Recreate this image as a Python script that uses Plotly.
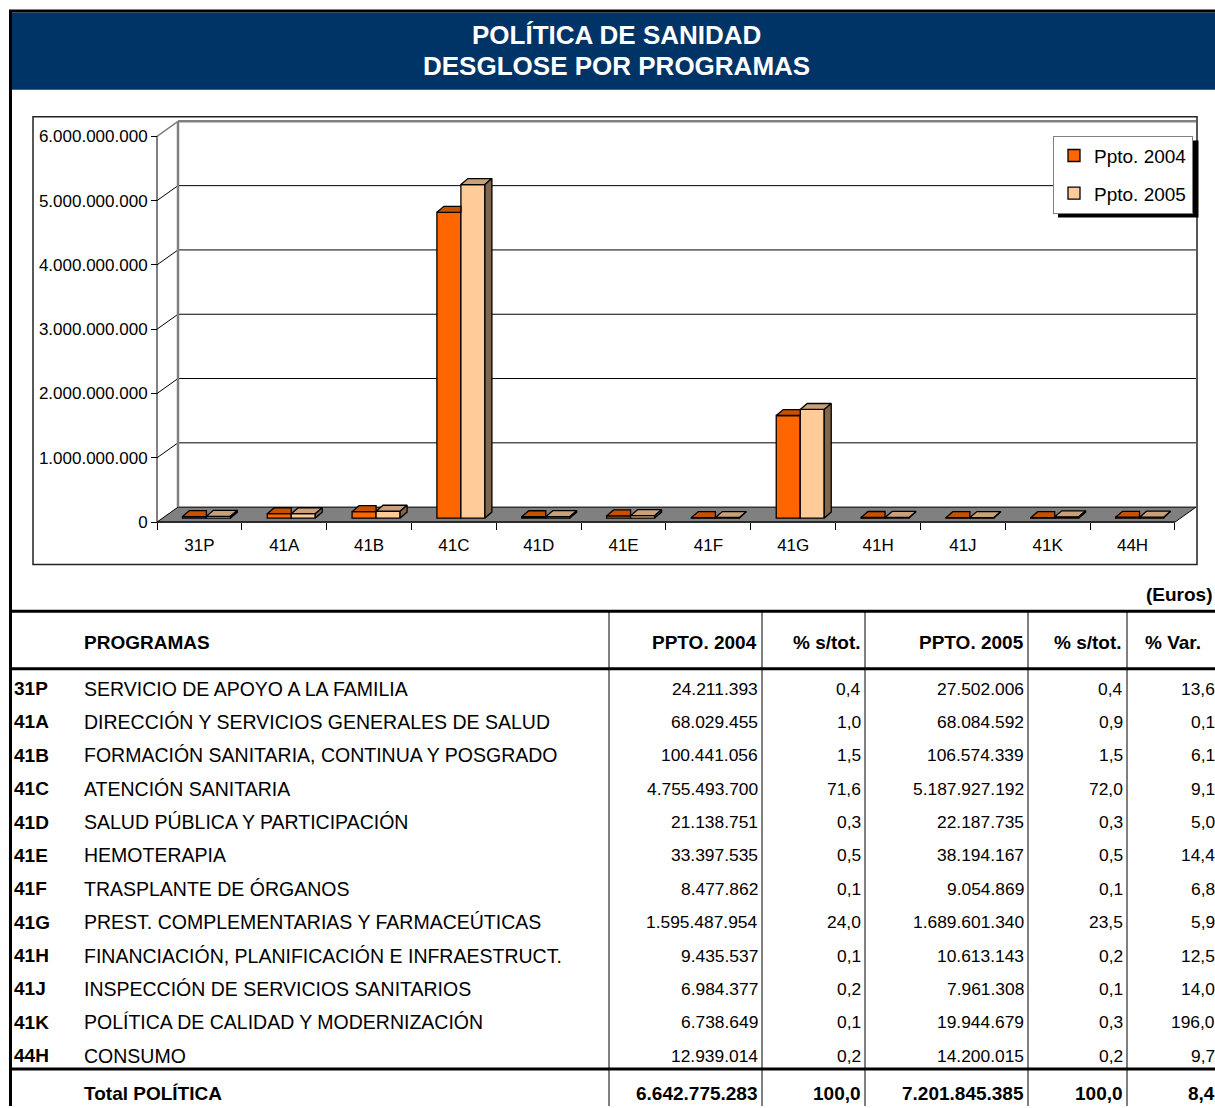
import plotly.graph_objects as go

W, H = 1215, 1108

codes = ["31P", "41A", "41B", "41C", "41D", "41E", "41F", "41G", "41H", "41J", "41K", "44H"]
names = [
    "SERVICIO DE APOYO A LA FAMILIA",
    "DIRECCIÓN Y SERVICIOS GENERALES DE SALUD",
    "FORMACIÓN SANITARIA, CONTINUA Y POSGRADO",
    "ATENCIÓN SANITARIA",
    "SALUD PÚBLICA Y PARTICIPACIÓN",
    "HEMOTERAPIA",
    "TRASPLANTE DE ÓRGANOS",
    "PREST. COMPLEMENTARIAS Y FARMACEÚTICAS",
    "FINANCIACIÓN, PLANIFICACIÓN E INFRAESTRUCT.",
    "INSPECCIÓN DE SERVICIOS SANITARIOS",
    "POLÍTICA DE CALIDAD Y MODERNIZACIÓN",
    "CONSUMO",
]
ppto_2004 = [24211393, 68029455, 100441056, 4755493700, 21138751, 33397535,
             8477862, 1595487954, 9435537, 6984377, 6738649, 12939014]
pct_2004 = [0.4, 1.0, 1.5, 71.6, 0.3, 0.5, 0.1, 24.0, 0.1, 0.2, 0.1, 0.2]
ppto_2005 = [27502006, 68084592, 106574339, 5187927192, 22187735, 38194167,
             9054869, 1689601340, 10613143, 7961308, 19944679, 14200015]
pct_2005 = [0.4, 0.9, 1.5, 72.0, 0.3, 0.5, 0.1, 23.5, 0.2, 0.1, 0.3, 0.2]
pct_var = [13.6, 0.1, 6.1, 9.1, 5.0, 14.4, 6.8, 5.9, 12.5, 14.0, 196.0, 9.7]
total_2004, total_2005 = 6642775283, 7201845385
total_pct, total_var = 100.0, 8.4

y_tickvals = [0, 1e9, 2e9, 3e9, 4e9, 5e9, 6e9]
y_ticktext = ["0", "1.000.000.000", "2.000.000.000", "3.000.000.000",
              "4.000.000.000", "5.000.000.000", "6.000.000.000"]

ORANGE, PEACH = "#FF6600", "#FFCC99"
ORANGE_TOP, PEACH_TOP, PEACH_SIDE = "#C65100", "#C9A07A", "#7F664D"
NAVY = "#003366"
FONT = "Liberation Sans, Arial, sans-serif"


def num(v):
    return f"{v:,}".replace(",", ".")


def pct(v):
    return f"{v:.1f}".replace(".", ",")


# pixel geometry of the pseudo-3D plot
AX_LEFT, AX_ZERO = 157, 523.5      # front axes corner
CAT_PX, E9_PX = 84.83, 64.47        # px per category, px per 1e9
DOM_L, DOM_R, DOM_T, DOM_B = 150, 1200, 118, 530


def px(x):
    return x / W


def py(y):
    return 1 - y / H


def ux(p):
    return p / CAT_PX


def uy(p):
    return p / E9_PX * 1e9


wall_dx, wall_dy = ux(21), uy(15)
bar_dx, bar_dy = ux(7), uy(6)
bar_w, bar_shift, bar_base = ux(24), ux(7), uy(4)
n = len(codes)
x_end = n + wall_dx

fig = go.Figure()

centers = [i + 0.5 + bar_shift for i in range(n)]
x04 = [c - bar_w / 2 for c in centers]
x05 = [c + bar_w / 2 for c in centers]
fig.add_bar(x=x04, y=ppto_2004, base=[bar_base] * n, width=bar_w, name="Ppto. 2004",
            marker=dict(color=ORANGE, line=dict(color="black", width=1.3)),
            legendgroup="a", hoverinfo="skip")
fig.add_bar(x=x05, y=ppto_2005, base=[bar_base] * n, width=bar_w, name="Ppto. 2005",
            marker=dict(color=PEACH, line=dict(color="black", width=1.3)),
            legendgroup="b", hoverinfo="skip")

# top / side faces
top04_x, top04_y, top05_x, top05_y, side_x, side_y = [], [], [], [], [], []
for i in range(n):
    xl, xr = x04[i] - bar_w / 2, x04[i] + bar_w / 2
    t = bar_base + ppto_2004[i]
    top04_x += [xl, xl + bar_dx, xr, xr, xl, None]
    top04_y += [t, t + bar_dy, t + bar_dy, t, t, None]
    xl, xr = x05[i] - bar_w / 2, x05[i] + bar_w / 2
    t = bar_base + ppto_2005[i]
    top05_x += [xl, xl + bar_dx, xr + bar_dx, xr, xl, None]
    top05_y += [t, t + bar_dy, t + bar_dy, t, t, None]
    side_x += [xr, xr + bar_dx, xr + bar_dx, xr, xr, None]
    side_y += [bar_base, bar_base + bar_dy, t + bar_dy, t, bar_base, None]

for xs, ys, col in [(top04_x, top04_y, ORANGE_TOP), (top05_x, top05_y, PEACH_TOP),
                    (side_x, side_y, PEACH_SIDE)]:
    fig.add_scatter(x=xs, y=ys, mode="lines", fill="toself", fillcolor=col,
                    line=dict(color="black", width=1.3), showlegend=False, hoverinfo="skip")

shapes = []


def dline(x0, y0, x1, y1, color="black", width=1):
    shapes.append(dict(type="line", xref="x", yref="y", x0=x0, y0=y0, x1=x1, y1=y1,
                       layer="below", line=dict(color=color, width=width)))


def pline(x0, y0, x1, y1, color="black", width=1):
    shapes.append(dict(type="line", xref="paper", yref="paper", x0=px(x0), y0=py(y0),
                       x1=px(x1), y1=py(y1), line=dict(color=color, width=width)))


# floor
shapes.append(dict(type="path", xref="x", yref="y", layer="below", fillcolor="#808080",
                   line=dict(color="black", width=1),
                   path=f"M0,0 L{n},0 L{x_end},{wall_dy} L{wall_dx},{wall_dy} Z"))
# gridlines on back wall + side wall
for v in y_tickvals[1:-1]:
    dline(wall_dx, v + wall_dy, x_end, v + wall_dy)
    dline(0, v, wall_dx, v + wall_dy)
top = y_tickvals[-1]
dline(wall_dx, top + wall_dy, x_end, top + wall_dy, "#808080", 2.5)
dline(0, top, wall_dx, top + wall_dy, "#808080", 1.5)
dline(wall_dx, wall_dy, wall_dx, top + wall_dy, "#808080", 2.5)
# front axes
dline(0, 0, 0, top)
dline(0, 0, n, 0)

# page frame and header
shapes.append(dict(type="rect", xref="paper", yref="paper", x0=px(12), y0=py(90),
                   x1=px(1216), y1=py(12.5), fillcolor=NAVY, line=dict(width=0)))
pline(9, 11, 1216, 11, width=3)
pline(10.5, 10, 10.5, 1109, width=3)
# chart frame
shapes.append(dict(type="rect", xref="paper", yref="paper", x0=px(33), y0=py(566),
                   x1=px(1197), y1=py(117), line=dict(color="#222222", width=1.5)))
# legend shadow
shapes.append(dict(type="rect", xref="paper", yref="paper", x0=px(1058), y0=py(218),
                   x1=px(1198.5), y1=py(141), fillcolor="black", line=dict(width=0)))

# table grid
for yy in [613, 670.5, 1072]:
    pline(10, yy, 1216, yy, width=3)
for xx in [609, 762, 865, 1028, 1127]:
    pline(xx, 613, xx, 1109, width=1)

annotations = []


def ann(x, y, text, anchor="left", size=19, bold=False, color="black"):
    annotations.append(dict(xref="paper", yref="paper", x=px(x), y=py(y),
                            text=f"<b>{text}</b>" if bold else text, showarrow=False,
                            xanchor=anchor, yanchor="middle",
                            font=dict(family=FONT, size=size, color=color)))


ann(616, 35, "POLÍTICA DE SANIDAD", "center", 26, True, "white")
ann(616, 66, "DESGLOSE POR PROGRAMAS", "center", 26, True, "white")
ann(1215, 596, "(Euros)", "right", 19, True)

ann(82, 644, "PROGRAMAS", bold=True)
ann(759, 644, "PPTO. 2004", "right", bold=True)
ann(863, 644, "% s/tot.", "right", bold=True)
ann(1026, 644, "PPTO. 2005", "right", bold=True)
ann(1124, 644, "% s/tot.", "right", bold=True)
ann(1143, 644, "% Var.", bold=True)

ROW0, ROW_H = 690.5, 33.45
for i in range(n):
    y = ROW0 + i * ROW_H
    ann(12, y, codes[i], bold=True)
    ann(82, y, names[i], size=19.5)
    ann(760, y, num(ppto_2004[i]), "right", 17.4)
    ann(863, y, pct(pct_2004[i]), "right", 17.4)
    ann(1026, y, num(ppto_2005[i]), "right", 17.4)
    ann(1125, y, pct(pct_2005[i]), "right", 17.4)
    ann(1217, y, pct(pct_var[i]), "right", 17.4)

ann(82, 1096.5, "Total POLÍTICA", bold=True)
ann(760, 1096.5, num(total_2004), "right", bold=True)
ann(863, 1096.5, pct(total_pct), "right", bold=True)
ann(1026, 1096.5, num(total_2005), "right", bold=True)
ann(1125, 1096.5, pct(total_pct), "right", bold=True)
ann(1217, 1096.5, pct(total_var), "right", bold=True)

fig.update_layout(
    width=W, height=H, margin=dict(l=0, r=0, t=0, b=0),
    paper_bgcolor="white", plot_bgcolor="rgba(0,0,0,0)",
    barmode="overlay", shapes=shapes, annotations=annotations,
    font=dict(family=FONT, color="black"),
    xaxis=dict(domain=[px(DOM_L), px(DOM_R)], range=[ux(DOM_L - AX_LEFT), ux(DOM_R - AX_LEFT)],
               anchor="free", position=py(AX_ZERO), showgrid=False, zeroline=False,
               showline=False, tickmode="array", tickvals=[i + 0.5 for i in range(n)],
               ticktext=codes, ticks="outside", ticklen=8, tickcolor="rgba(0,0,0,0)",
               tickfont=dict(size=17),
               minor=dict(tickmode="array", tickvals=list(range(n + 1)), ticks="outside",
                          ticklen=7, tickcolor="black", tickwidth=1, showgrid=False)),
    yaxis=dict(domain=[py(DOM_B), py(DOM_T)], range=[-uy(DOM_B - AX_ZERO), uy(AX_ZERO - DOM_T)],
               anchor="free", position=px(AX_LEFT), showgrid=False, zeroline=False,
               showline=False, tickmode="array", tickvals=y_tickvals, ticktext=y_ticktext,
               ticks="outside", ticklen=6, tickcolor="black", tickwidth=1,
               tickfont=dict(size=17)),
    legend=dict(x=px(1053), y=py(136), xanchor="left", yanchor="top", bgcolor="white",
                bordercolor="#808080", borderwidth=1, font=dict(size=19),
                traceorder="grouped", tracegroupgap=10, itemwidth=30),
)

# the browser adds an 8px body margin; remove it so the page matches pixel for pixel
fig.write_html("out.html", config={"displayModeBar": False},
               post_script="document.body.style.margin='0px';")
